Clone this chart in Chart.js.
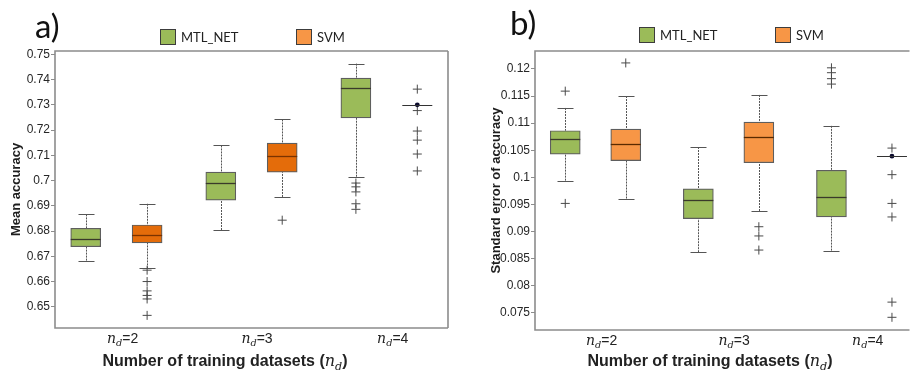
<!DOCTYPE html>
<html><head><meta charset="utf-8">
<script src="https://cdn.jsdelivr.net/npm/chart.js@4.4.0/dist/chart.umd.min.js"></script>
<style>
body{margin:0;background:#fff;width:915px;height:370px;overflow:hidden;position:relative;font-family:'Liberation Sans',Arial,sans-serif}
.panel{position:absolute;top:0;height:370px}
#pa{left:0;width:455px}
#pb{left:455px;width:460px}
.panel canvas{position:absolute;left:0;top:0}
.lab{position:absolute;font-family:Lato,sans-serif;font-size:33px;line-height:33px;color:#111}
.leg{position:absolute;font-family:Lato,sans-serif;font-size:13px;line-height:15px;color:#222;display:flex;align-items:center;white-space:nowrap}
.sw{width:14px;height:14px;border:1px solid #3c3c3c;margin-right:5px;box-sizing:content-box}
.xt{position:absolute;transform:translate(-50%,-50%);font-size:14px;white-space:nowrap;color:#222}
.xt i,.xtitle i{font-family:'DejaVu Serif',serif;font-style:italic;font-weight:normal}
.xt sub,.xtitle sub{font-size:70%}
.xtitle{position:absolute;transform:translate(-50%,-50%);font-weight:bold;font-size:16px;white-space:nowrap;color:#222}
</style></head>
<body>
<div class="panel" id="pa"><canvas id="ca" width="455" height="370"></canvas></div>
<div class="panel" id="pb"><canvas id="cb" width="460" height="370"></canvas></div>
<div class="lab" style="left:35px;top:9px">a)</div>
<div class="lab" style="left:510px;top:6px">b)</div>
<div class="leg" style="left:160px;top:29px"><span class="sw" style="background:#9BBB59"></span>MTL_NET</div>
<div class="leg" style="left:296px;top:29px"><span class="sw" style="background:#F79646"></span>SVM</div>
<div class="leg" style="left:639px;top:27px"><span class="sw" style="background:#9BBB59"></span>MTL_NET</div>
<div class="leg" style="left:775px;top:27px"><span class="sw" style="background:#F79646"></span>SVM</div>
<div class="xtitle" style="left:225px;top:362px">Number of training datasets (<i>n</i><sub><i>d</i></sub>)</div>
<div class="xtitle" style="left:710px;top:362px">Number of training datasets (<i>n</i><sub><i>d</i></sub>)</div>
<script>
// ---------- data ----------
const categories = ['2', '3', '4'];               // n_d values
const categoryTickPositions = [1.6, 3.79, 6.0];
const seriesNames = ['MTL_NET', 'SVM'];
const boxPositions = [1.0, 2.0, 3.2, 4.2, 5.4, 6.4];
const boxSeries = [0, 1, 0, 1, 0, 1];

// panel a) Mean accuracy
const accLow    = [0.6683, 0.6652, 0.6804, 0.6935, 0.7015, 0.7300];
const accQ1     = [0.6738, 0.6753, 0.6922, 0.7033, 0.7248, 0.7300];
const accMedian = [0.6770, 0.6784, 0.6989, 0.7099, 0.7368, 0.7300];
const accQ3     = [0.6811, 0.6824, 0.7033, 0.7148, 0.7406, 0.7300];
const accHigh   = [0.6866, 0.6908, 0.7139, 0.7242, 0.7463, 0.7300];
const accOutliers = [
  [],
  [0.6645, 0.6600, 0.6563, 0.6545, 0.6531, 0.6466],
  [],
  [0.6843],
  [0.6990, 0.6975, 0.6955, 0.6908, 0.6886],
  [0.7362, 0.7277, 0.7196, 0.7160, 0.7105, 0.7038]
];
const accTicks = [0.65, 0.66, 0.67, 0.68, 0.69, 0.70, 0.71, 0.72, 0.73, 0.74, 0.75];
const accTickLabels = ['0.65', '0.66', '0.67', '0.68', '0.69', '0.7', '0.71', '0.72', '0.73', '0.74', '0.75'];

// panel b) Standard error of accuracy
const seLow    = [0.0994, 0.0961, 0.0862, 0.0938, 0.0865, 0.1039];
const seQ1     = [0.1043, 0.1031, 0.0924, 0.1027, 0.0927, 0.1039];
const seMedian = [0.1070, 0.1062, 0.0958, 0.1074, 0.0964, 0.1039];
const seQ3     = [0.1086, 0.1089, 0.0979, 0.1102, 0.1013, 0.1039];
const seHigh   = [0.1128, 0.1150, 0.1056, 0.1152, 0.1095, 0.1039];
const seOutliers = [
  [0.1159, 0.0952],
  [0.1211],
  [],
  [0.0909, 0.0892, 0.0866],
  [0.1202, 0.1193, 0.1182, 0.1172],
  [0.1054, 0.1005, 0.0952, 0.0927, 0.0770, 0.0742]
];
const seTicks = [0.075, 0.08, 0.085, 0.09, 0.095, 0.1, 0.105, 0.11, 0.115, 0.12];
const seTickLabels = ['0.075', '0.08', '0.085', '0.09', '0.095', '0.1', '0.105', '0.11', '0.115', '0.12'];

// ---------- drawing ----------
const BOX_PX = 30, CAP_PX = 16;
const boxPlugin = {
  id: 'boxParts',
  beforeDatasetsDraw(chart) {
    const o = chart.options.plugins.boxParts, x = chart.scales.x, y = chart.scales.y, c = chart.ctx;
    c.save();
    c.lineWidth = 1; c.strokeStyle = '#555';
    boxPositions.forEach((p, i) => {
      const px = Math.round(x.getPixelForValue(p)) + 0.5;
      const hw = CAP_PX / 2;
      [[o.low[i], o.q1[i]], [o.high[i], o.q3[i]]].forEach(([w, q]) => {
        if (w === q) return;
        c.setLineDash([2, 1]);
        c.beginPath(); c.moveTo(px, y.getPixelForValue(w)); c.lineTo(px, y.getPixelForValue(q)); c.stroke();
        c.setLineDash([]);
        const py = Math.round(y.getPixelForValue(w)) + 0.5;
        c.beginPath(); c.moveTo(px - hw, py); c.lineTo(px + hw, py); c.stroke();
      });
    });
    c.restore();
  },
  afterDatasetsDraw(chart) {
    const o = chart.options.plugins.boxParts, y = chart.scales.y, c = chart.ctx;
    const bars = chart.getDatasetMeta(0).data;
    c.save();
    boxPositions.forEach((p, i) => {
      const b = bars[i];
      const x0 = b.x - b.width / 2, x1 = b.x + b.width / 2;
      const py = Math.round(y.getPixelForValue(o.med[i])) + 0.5;
      const collapsed = o.q1[i] === o.q3[i];
      c.strokeStyle = collapsed ? '#333' : o.medColors[boxSeries[i]];
      c.lineWidth = collapsed ? 1 : 1.3;
      c.beginPath(); c.moveTo(x0, py); c.lineTo(x1, py); c.stroke();
    });
    c.restore();
  },
  afterDraw(chart) {
    const a = chart.chartArea, c = chart.ctx, o = chart.options.plugins.boxParts;
    c.save();
    c.strokeStyle = '#8c8c8c'; c.lineWidth = 1.6;
    c.beginPath();
    c.moveTo(a.right, a.top); c.lineTo(a.left, a.top); c.lineTo(a.left, a.bottom); c.lineTo(a.right, a.bottom);
    if (o.closeRight) { c.moveTo(a.right, a.top); c.lineTo(a.right, a.bottom); }
    c.stroke();
    c.restore();
  }
};

function makeChart(id, panelEl, cfg) {
  const boxData = boxPositions.map((p, i) => ({x: p, y: [cfg.q1[i], cfg.q3[i]]}));
  const outData = [];
  cfg.outliers.forEach((arr, i) => arr.forEach(v => outData.push({x: boxPositions[i], y: v})));
  const dotData = boxPositions.map((p, i) => cfg.q1[i] === cfg.q3[i] ? {x: p, y: cfg.med[i]} : null).filter(Boolean);
  const chart = new Chart(document.getElementById(id), {
    type: 'bar',
    data: {
      datasets: [
        {type: 'bar', label: 'box', data: boxData,
         backgroundColor: boxSeries.map(s => cfg.fills[s]),
         borderColor: '#5e5e5e', borderWidth: 1.2, borderSkipped: false,
         barThickness: BOX_PX, order: 2},
        {type: 'line', label: 'outliers', data: outData, showLine: false,
         pointStyle: 'cross', pointRadius: 4.5, pointBorderWidth: 1, pointBorderColor: '#4a4a4a',
         pointBackgroundColor: '#4a4a4a', order: 1},
        {type: 'line', label: 'median', data: dotData, showLine: false,
         pointStyle: 'circle', pointRadius: 2.4, pointBorderWidth: 0, pointBackgroundColor: '#0b0b2e', order: 0}
      ]
    },
    options: {
      responsive: false, animation: false,
      layout: {padding: {top: 51, right: cfg.padRight, bottom: 0, left: 0}},
      plugins: {
        legend: {display: false}, tooltip: {enabled: false},
        boxParts: {low: cfg.low, q1: cfg.q1, med: cfg.med, q3: cfg.q3, high: cfg.high,
                   medColors: cfg.medColors, closeRight: cfg.closeRight}
      },
      scales: {
        x: {type: 'linear', min: 0.5, max: cfg.xMax, offset: false,
            grid: {display: false, offset: false}, border: {display: false},
            ticks: {display: false},
            afterFit: s => { s.height = cfg.xHeight; }},
        y: {type: 'linear', min: cfg.yMin, max: cfg.yMax,
            afterBuildTicks: s => { s.ticks = cfg.ticks.map(v => ({value: v})); },
            ticks: {callback: (v, i) => cfg.tickLabels[i], color: '#262626', padding: 1,
                    font: {family: "'Liberation Sans', Arial", size: 12}},
            grid: {drawOnChartArea: false, drawTicks: true, tickLength: 4, color: '#8c8c8c'},
            border: {display: false},
            title: {display: true, text: cfg.yTitle, color: '#1e1e1e', padding: {top: cfg.titlePad, bottom: 0},
                    font: {family: "'Liberation Sans', Arial", size: 13, weight: 'bold'}},
            afterFit: s => { s.width = cfg.yWidth; }}
      }
    },
    plugins: [boxPlugin]
  });
  const off = panelEl.offsetLeft;
  const bottom = chart.chartArea.bottom;
  categoryTickPositions.forEach((p, i) => {
    const d = document.createElement('div');
    d.className = 'xt';
    d.innerHTML = '<i>n</i><sub><i>d</i></sub>=' + categories[i];
    d.style.left = (off + chart.scales.x.getPixelForValue(p)) + 'px';
    d.style.top = (bottom + 11) + 'px';
    document.body.appendChild(d);
  });
  return chart;
}

makeChart('ca', document.getElementById('pa'), {
  low: accLow, q1: accQ1, med: accMedian, q3: accQ3, high: accHigh, outliers: accOutliers,
  fills: ['#9BBB59', '#E46C0A'], medColors: ['#3a3a2a', '#7a3300'],
  yMin: 0.6416, yMax: 0.7513, ticks: accTicks, tickLabels: accTickLabels, closeRight: true,
  yTitle: 'Mean accuracy', titlePad: 9, yWidth: 55, xHeight: 42, padRight: 7, xMax: 6.9
});
makeChart('cb', document.getElementById('pb'), {
  low: seLow, q1: seQ1, med: seMedian, q3: seQ3, high: seHigh, outliers: seOutliers,
  fills: ['#9BBB59', '#F79646'], medColors: ['#3a3a2a', '#5a2a00'],
  yMin: 0.07186, yMax: 0.1233, ticks: seTicks, tickLabels: seTickLabels, closeRight: false,
  yTitle: 'Standard error of accuracy', titlePad: 34, yWidth: 80, xHeight: 40, padRight: 0, xMax: 6.69
});
</script>
</body></html>
